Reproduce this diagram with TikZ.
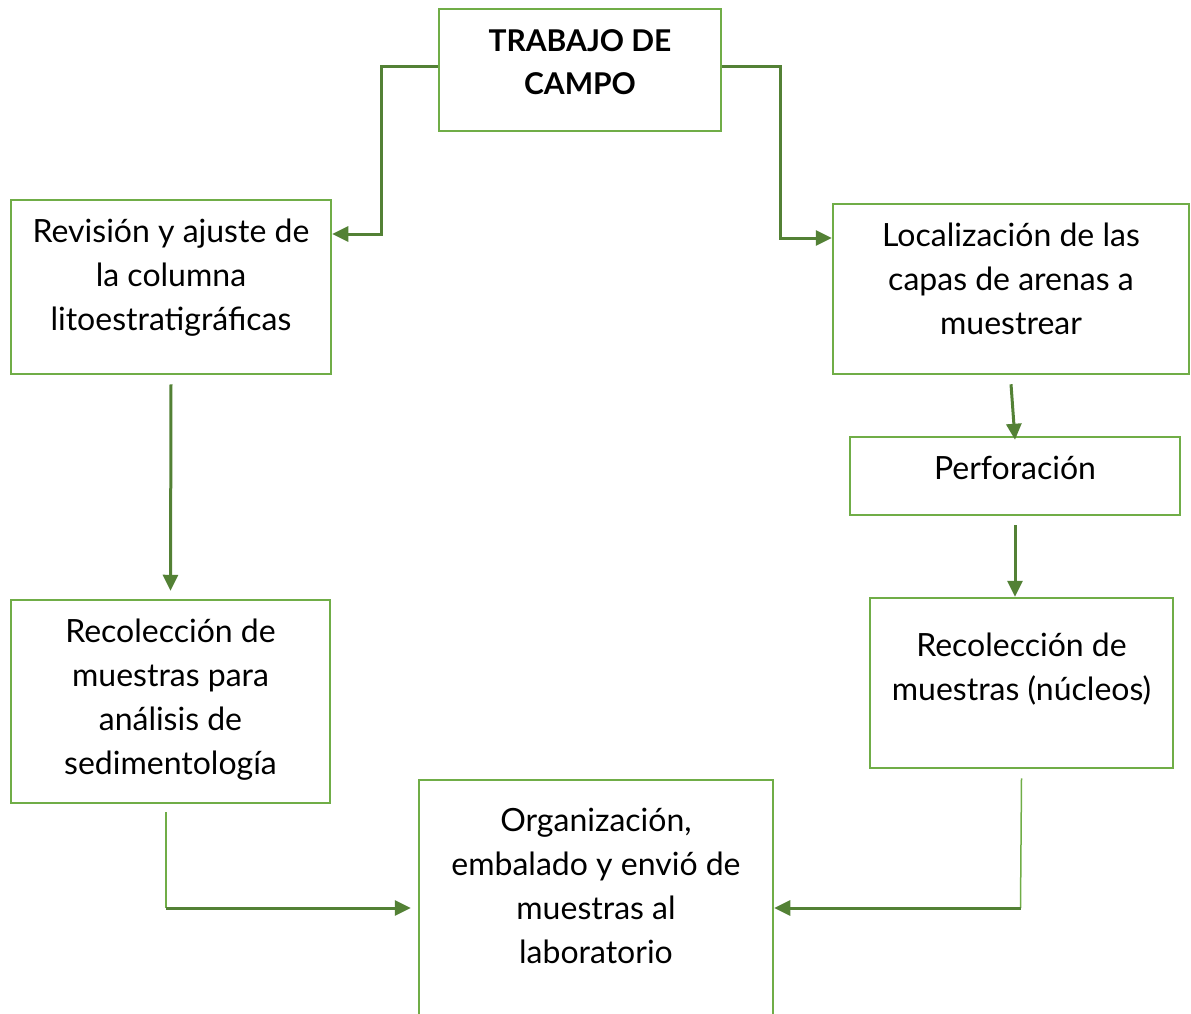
\documentclass[tikz,border=0pt]{standalone}
\usepackage{fontspec}
\setmainfont{Lato}
\usetikzlibrary{arrows.meta}
\usetikzlibrary{positioning}

\definecolor{boxgreen}{HTML}{70AD47}
\definecolor{linkgreen}{HTML}{538135}

\tikzset{
  box/.style={draw=boxgreen, line width=2.5pt, inner sep=0pt},
  txt/.style={align=center, inner sep=0pt},
  link/.style={draw=linkgreen, line width=3pt, -{Triangle[length=16pt,width=15pt]}},
  thinlink/.style={draw=boxgreen, line width=1.5pt},
}

\begin{document}
\begin{tikzpicture}[x=1pt, y=-1pt, font=\fontsize{32}{44}\selectfont]
    % page frame
    \useasboundingbox (0,0) rectangle (1191,1013);
    \clip (0,0) rectangle (1191,1013);

    % top box
    \node[box, minimum width=282pt, minimum height=122pt,
      label={[txt, yshift=8pt, font=\fontsize{30}{43}\selectfont\bfseries]center:{TRABAJO DE\\CAMPO}}] (campo) at (580,70) {};

    % left column
    \node[box, minimum width=320pt, minimum height=174pt,
      label={[txt, yshift=9pt]center:{Revisión y ajuste de\\la columna\\litoestratigráficas}}] (rev) at (171,287) {};
    \node[box, minimum width=319pt, minimum height=203pt,
      label={[txt, yshift=2pt]center:{Recolección de\\muestras para\\análisis de\\sedimentología}}] (sed) at (170.5,701.5) {};

    % right column
    \node[box, minimum width=356pt, minimum height=170pt,
      label={[txt, yshift=10pt]center:{Localización de las\\capas de arenas a\\muestrear}}] (loc) at (1011,289) {};
    \node[box, minimum width=330pt, minimum height=78pt,
      label={[txt, yshift=8pt]center:{Perforación}}] (perf) at (1015,476) {};
    \node[box, minimum width=303pt, minimum height=170pt,
      label={[txt, yshift=14pt]center:{Recolección de\\muestras (núcleos)}}] (nuc) at (1021.5,683) {};

    % bottom box, cut by the page edge
    \node[box, minimum width=354pt, minimum height=256pt,
      label={[txt, yshift=22.5pt]center:{Organización,\\embalado y envió de\\muestras al\\laboratorio}}] (org) at (596,908) {};

    % connectors
    \draw[link] ([yshift=4pt]campo.west) -- ++(-56,0) |- ([yshift=53pt]rev.east);
    \draw[link] ([yshift=4pt]campo.east) -- ++(58,0) |- ([yshift=51pt]loc.west);
    \draw[link] ([yshift=-9pt]rev.south) -- ([yshift=8pt]sed.north);
    \draw[link] ([yshift=-9pt]loc.south) -- ([yshift=-4pt]perf.north);
    \draw[link] ([yshift=-9pt]perf.south) -- (perf.south |- nuc.north);

    % bottom connectors, thin drop then arrow
    \coordinate (sedcorner) at ([xshift=-4.5pt]sed.south |- org.west);
    \draw[thinlink] ([xshift=-4.5pt,yshift=-8pt]sed.south) -- (sedcorner);
    \draw[link] (sedcorner) -- ([xshift=-7pt]org.west);
    \coordinate (nuccorner) at ([xshift=-1pt]nuc.south |- org.east);
    \draw[thinlink] ([yshift=-9pt]nuc.south) -- (nuccorner);
    \draw[link] (nuccorner) -- (org.east);
\end{tikzpicture}
\end{document}
